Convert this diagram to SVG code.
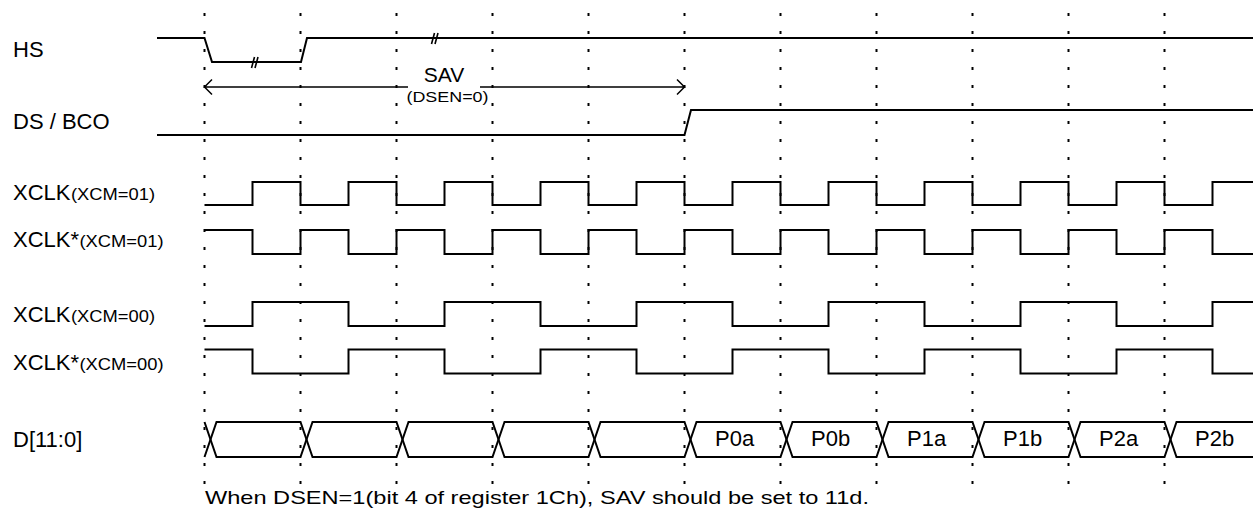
<svg xmlns="http://www.w3.org/2000/svg" width="1253" height="514" viewBox="0 0 1253 514">
<style>
text{font-family:"Liberation Sans",Arial,sans-serif;fill:#000}
.lbl{font-size:22px}
.sub{font-size:16px}
.sig{fill:none;stroke:#000;stroke-width:2;stroke-linejoin:miter}
.grid{fill:none;stroke:#000;stroke-width:2;stroke-dasharray:3 15}
.arr{fill:none;stroke:#000;stroke-width:1.5}
.brk{fill:none;stroke:#000;stroke-width:1.6}
</style>
<rect width="1253" height="514" fill="#fff"/>
<g id="grid">
<path class="grid" d="M204.5,13V486M300.5,13V486M396.5,13V486M492.5,13V486M588.5,13V486M684.5,13V486M780.5,13V486M876.5,13V486M972.5,13V486M1068.5,13V486M1164.5,13V486"/>
</g>
<g id="hs">
<text class="lbl" x="13" y="57">HS</text>
<path class="sig" d="M157,38H204.5L212,62H301L307,38H1253"/>
<path class="brk" d="M251.5,68L254.5,57M255,68L258,57"/>
<path class="brk" d="M431.5,44L434.5,33M435,44L438,33"/>
</g>
<g id="dsbco">
<text class="lbl" x="13" y="128.5">DS / BCO</text>
<path class="sig" d="M157,135H684.5L691,110H1253"/>
</g>
<g id="xclk01">
<text class="lbl" x="13" y="200">XCLK</text>
<text class="sub" x="71" y="200" textLength="84" lengthAdjust="spacingAndGlyphs">(XCM=01)</text>
<path class="sig" d="M204.5,205H252.5V182H300.5V205H348.5V182H396.5V205H444.5V182H492.5V205H540.5V182H588.5V205H636.5V182H684.5V205H732.5V182H780.5V205H828.5V182H876.5V205H924.5V182H972.5V205H1020.5V182H1068.5V205H1116.5V182H1164.5V205H1212.5V182H1253"/>
</g>
<g id="xclkn01">
<text class="lbl" x="13" y="247">XCLK*</text>
<text class="sub" x="79.5" y="247" textLength="84" lengthAdjust="spacingAndGlyphs">(XCM=01)</text>
<path class="sig" d="M204.5,230H252.5V254H300.5V230H348.5V254H396.5V230H444.5V254H492.5V230H540.5V254H588.5V230H636.5V254H684.5V230H732.5V254H780.5V230H828.5V254H876.5V230H924.5V254H972.5V230H1020.5V254H1068.5V230H1116.5V254H1164.5V230H1212.5V254H1253"/>
</g>
<g id="xclk00">
<text class="lbl" x="13" y="322">XCLK</text>
<text class="sub" x="71" y="322" textLength="84" lengthAdjust="spacingAndGlyphs">(XCM=00)</text>
<path class="sig" d="M204.5,326H252.5V302H348.5V326H444.5V302H540.5V326H636.5V302H732.5V326H828.5V302H924.5V326H1020.5V302H1116.5V326H1212.5V302H1253"/>
</g>
<g id="xclkn00">
<text class="lbl" x="13" y="370">XCLK*</text>
<text class="sub" x="79.5" y="370" textLength="84" lengthAdjust="spacingAndGlyphs">(XCM=00)</text>
<path class="sig" d="M204.5,349.5H252.5V373.5H348.5V349.5H444.5V373.5H540.5V349.5H636.5V373.5H732.5V349.5H828.5V373.5H924.5V349.5H1020.5V373.5H1116.5V349.5H1212.5V373.5H1253"/>
</g>
<g id="data">
<text class="lbl" x="13" y="446.5">D[11:0]</text>
<path class="sig" d="M204.5,422L216.5,457H300.5L312.5,422H396.5L408.5,457H492.5L504.5,422H588.5L600.5,457H684.5L696.5,422H780.5L792.5,457H876.5L888.5,422H972.5L984.5,457H1068.5L1080.5,422H1164.5L1176.5,457H1253"/>
<path class="sig" d="M204.5,457L216.5,422H300.5L312.5,457H396.5L408.5,422H492.5L504.5,457H588.5L600.5,422H684.5L696.5,457H780.5L792.5,422H876.5L888.5,457H972.5L984.5,422H1068.5L1080.5,457H1164.5L1176.5,422H1253"/>
<text class="lbl" x="715" y="446">P0a</text>
<text class="lbl" x="811" y="446">P0b</text>
<text class="lbl" x="907" y="446">P1a</text>
<text class="lbl" x="1003" y="446">P1b</text>
<text class="lbl" x="1099" y="446">P2a</text>
<text class="lbl" x="1195" y="446">P2b</text>
</g>
<g id="connectors">
<path class="arr" d="M204.5,87H408M480,87H684.5M212,79.5L204.5,87L212,94.5M677,79.5L684.5,87L677,94.5"/>
<text x="444" y="82" font-size="21" text-anchor="middle">SAV</text>
<text x="447.5" y="101.5" font-size="15" text-anchor="middle" textLength="82" lengthAdjust="spacingAndGlyphs">(DSEN=0)</text>
</g>
<text x="205" y="504" font-size="18.5" textLength="664" lengthAdjust="spacingAndGlyphs">When DSEN=1(bit 4 of register 1Ch), SAV should be set to 11d.</text>
</svg>
